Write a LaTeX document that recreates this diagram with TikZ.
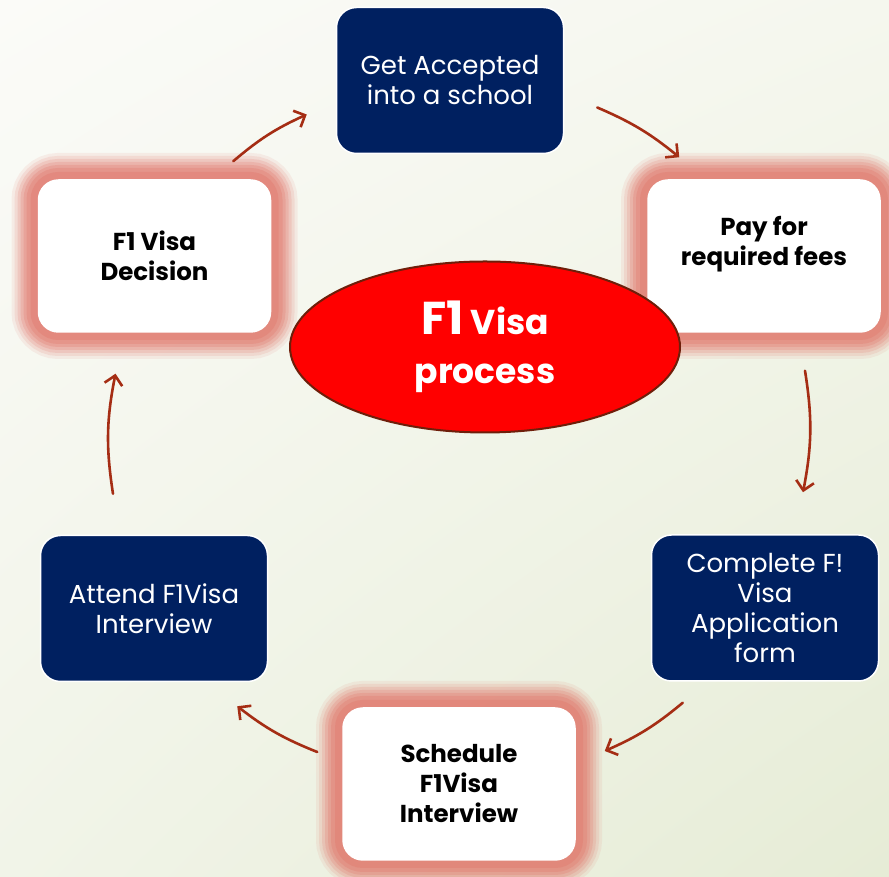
\documentclass[tikz,border=0pt]{standalone}
\usepackage{fontspec}
\setmainfont{Poppins}
\usetikzlibrary{arrows.meta,shapes.geometric,shadings}
\definecolor{navy}{RGB}{0,32,96}
\definecolor{glowc}{RGB}{225,117,105}
\definecolor{arrowc}{RGB}{165,45,20}
\definecolor{procred}{RGB}{255,0,0}
\definecolor{procrim}{RGB}{110,30,10}
\definecolor{bgtl}{RGB}{251,251,248}
\definecolor{bgtr}{RGB}{245,247,238}
\definecolor{bgbl}{RGB}{241,244,232}
\definecolor{bgbr}{RGB}{230,236,214}

\begin{document}
\begin{tikzpicture}[x=1pt,y=1pt,
		every node/.style={align=center},
		darkbox/.style={rectangle,rounded corners=20pt,fill=navy,draw=white,line width=1.5pt,
			text=white,minimum width=227pt,minimum height=146pt,
			font=\fontsize{26}{30}\selectfont},
		glow/.style={preaction={draw=glowc,line width=54pt,opacity=0.1},
			preaction={draw=glowc,line width=48pt,opacity=0.14},
			preaction={draw=glowc,line width=42pt,opacity=0.18},
			preaction={draw=glowc,line width=36pt,opacity=0.22},
			preaction={draw=glowc,line width=30pt,opacity=0.26},
			preaction={draw=glowc,line width=24pt,opacity=0.3},
			preaction={draw=glowc,line width=16pt,opacity=0.35}},
		lightbox/.style={rectangle,rounded corners=20pt,fill=white,draw=white,line width=1.5pt,
			glow,minimum width=232pt,minimum height=152pt,
			font=\fontsize{24.5}{30}\selectfont\bfseries},
		flow/.style={draw=arrowc,line width=2.6pt,line cap=round,
			-{Straight Barb[length=9pt,width=18pt,line width=2.6pt]}}]
		% background
		\useasboundingbox (0,0) rectangle (889,877);
		\shade[upper left=bgtl,upper right=bgtr,lower left=bgbl,lower right=bgbr]
			(0,0) rectangle (889,877);
		% steps
		\node[darkbox] (acc) at (450,796.5) {Get Accepted\\into a school};
		\node[lightbox] (pay) at (764,621) {Pay for\\required fees\\~};
		\node[darkbox] (app) at (765,269) {Complete F!\\Visa\\Application\\form};
		\node[lightbox] (sch) at (459,93) {Schedule\\F1Visa\\Interview};
		\node[darkbox] (att) at (154,268.5) {Attend F1Visa\\Interview};
		\node[lightbox] (dec) at (154.5,621) {F1 Visa\\Decision};
		% centre
		\node[ellipse,fill=procred,draw=procrim,line width=2pt,minimum width=390pt,
			minimum height=171pt,inner sep=0,text=white,
			font=\fontsize{34.5}{49}\selectfont\bfseries] (proc) at (485,530)
			{{\fontsize{46}{49}\selectfont F1} Visa\\process};
		% cycle
		\draw[flow] ([shift={(-38,18)}]dec.north east) to[bend left=8] ([shift={(-29,-34)}]acc.west);
		\draw[flow] ([shift={(33,-27)}]acc.east) to[bend left=8] ([shift={(32,22)}]pay.north west);
		\draw[flow] ([shift={(41,-38)}]pay.south) to[bend left=10] ([shift={(38,42)}]app.north);
		\draw[flow] ([shift={(32,-21)}]app.south west) to[bend left=8] ([shift={(29,33)}]sch.east);
		\draw[flow] ([shift={(-25,32)}]sch.west) to[bend left=8] ([shift={(-31,-24)}]att.south east);
		\draw[flow] ([shift={(-41,41)}]att.north) to[bend left=10] ([shift={(-39,-41)}]dec.south);
\end{tikzpicture}
\end{document}
